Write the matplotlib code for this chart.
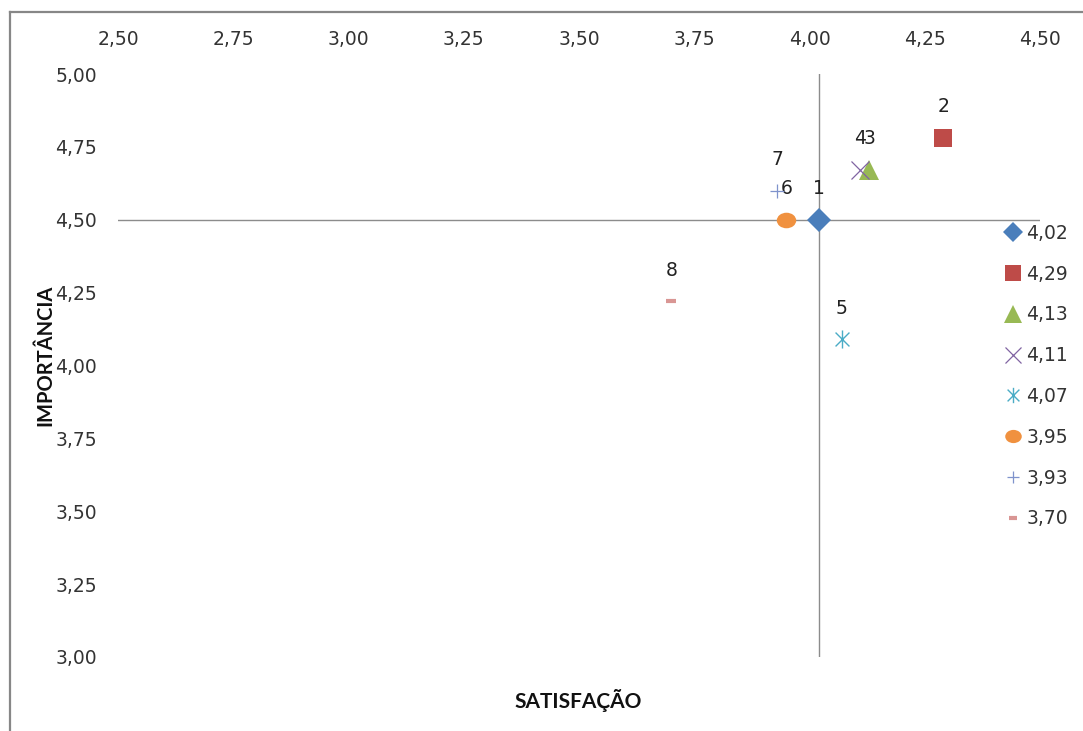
import matplotlib
matplotlib.use("Agg")
import matplotlib.pyplot as plt
from matplotlib.lines import Line2D
from matplotlib.path import Path
from matplotlib.transforms import Affine2D
from matplotlib.ticker import FuncFormatter

# Satisfaction (x) and importance (y) for each item
item_ids = ["1", "2", "3", "4", "5", "6", "7", "8"]
satisfacao = [4.02, 4.29, 4.13, 4.11, 4.07, 3.95, 3.93, 3.70]
importancia = [4.50, 4.78, 4.67, 4.67, 4.09, 4.50, 4.60, 4.22]
legend_labels = ["4,02", "4,29", "4,13", "4,11", "4,07", "3,95", "3,93", "3,70"]

x_ticks = [2.50, 2.75, 3.00, 3.25, 3.50, 3.75, 4.00, 4.25, 4.50]
y_ticks = [3.00, 3.25, 3.50, 3.75, 4.00, 4.25, 4.50, 4.75, 5.00]
x_cross = 4.02   # vertical axis crosses here
y_cross = 4.50   # horizontal axis crosses here

# asterisk marker: an "x" with a vertical stroke
star = Path(
    [(-1, -1), (1, 1), (-1, 1), (1, -1), (0, -1.3), (0, 1.3)],
    [Path.MOVETO, Path.LINETO, Path.MOVETO, Path.LINETO, Path.MOVETO, Path.LINETO],
)
# slightly flattened circle
ellipse = Path.unit_circle().transformed(Affine2D().scale(1.0, 0.8))

styles = [
    dict(marker="D", color="#4A7EBB", ms=12, mew=0, fill=True),
    dict(marker="s", color="#BE4B48", ms=13, mew=0, fill=True),
    dict(marker="^", color="#98B954", ms=15, mew=0, fill=True),
    dict(marker="x", color="#8064A2", ms=13, mew=0.9, fill=False),
    dict(marker=star, color="#4BACC6", ms=13, mew=1.0, fill=False),
    dict(marker=ellipse, color="#F0913F", ms=14, mew=0, fill=True),
    dict(marker="+", color="#7F93CC", ms=10, mew=0.9, fill=False),
    dict(marker="_", color="#D99694", ms=7, mew=3, fill=False),
]

W, H = 1083, 731
fig = plt.figure(figsize=(W / 100, H / 100), dpi=100)
ax = fig.add_axes([118 / W, 1 - 657 / H, (1040 - 118) / W, (657 - 74) / H])

fs = 13.5
tick_font = dict(family="DejaVu Sans", size=fs)
text_color = "#333333"

handles = []
for xv, yv, name, st, lab in zip(satisfacao, importancia, item_ids, styles, legend_labels):
    kw = dict(marker=st["marker"], markersize=st["ms"], markeredgewidth=st["mew"],
              linestyle="none", color=st["color"], markeredgecolor=st["color"])
    if st["fill"]:
        kw["markerfacecolor"] = st["color"]
    h, = ax.plot([xv], [yv], label=lab, zorder=3, **kw)
    handles.append(h)
    ax.annotate(name, (xv, yv), xytext=(0, 22.5), textcoords="offset points",
                ha="center", va="center", color="#222222", **tick_font)

ax.set_xlim(2.5, 4.5)
ax.set_ylim(3.0, 5.0)
for s in ax.spines.values():
    s.set_visible(False)

ax.axvline(x_cross, color="#8C8C8C", lw=1.0, zorder=1)
ax.axhline(y_cross, color="#8C8C8C", lw=1.0, zorder=1)

comma = FuncFormatter(lambda v, p: f"{v:.2f}".replace(".", ","))
ax.xaxis.tick_top()
ax.set_xticks(x_ticks)
ax.set_yticks(y_ticks)
ax.xaxis.set_major_formatter(comma)
ax.yaxis.set_major_formatter(comma)
ax.tick_params(axis="x", length=0, pad=18, labelcolor=text_color, labelsize=fs)
ax.tick_params(axis="y", length=0, pad=15, labelcolor=text_color, labelsize=fs)

fig.text(578 / W, 1 - 700 / H, "SATISFAÇÃO", ha="center", va="center",
         family="Lato", weight="bold", size=15, color="#111111")
fig.text(45 / W, 1 - 355 / H, "IMPORTÂNCIA", ha="center", va="center", rotation=90,
         family="Lato", weight="bold", size=14.5, color="#111111")

leg = ax.legend(handles=handles, loc="upper left", bbox_to_anchor=(1004 / W, 1 - 224 / H),
                bbox_transform=fig.transFigure, frameon=False, borderpad=0,
                borderaxespad=0, handlelength=1.0, handletextpad=0.2,
                labelspacing=1.16, markerscale=0.85, prop=dict(family="DejaVu Sans", size=fs))
for t in leg.get_texts():
    t.set_color(text_color)

# outer chart-area border (left and top edges)
fig.add_artist(Line2D([10 / W, 10 / W], [0, 1 - 12 / H], transform=fig.transFigure,
                      color="#878787", lw=1.6))
fig.add_artist(Line2D([10 / W, 1], [1 - 12 / H, 1 - 12 / H], transform=fig.transFigure,
                      color="#878787", lw=1.6))

fig.savefig("out.png", dpi=100)
